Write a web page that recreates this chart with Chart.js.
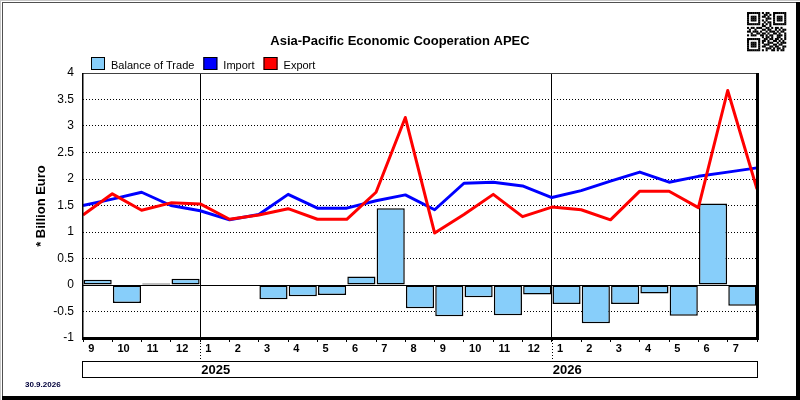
<!DOCTYPE html>
<html>
<head>
<meta charset="utf-8">
<title>APEC - Balance of Trade</title>
<script src="https://cdn.jsdelivr.net/npm/chart.js@4/dist/chart.umd.min.js"></script>
<style>
    html, body { margin: 0; padding: 0; background: #fff; }
    #wrap { width: 800px; height: 400px; }
</style>
</head>
<body>
<div id="wrap"><canvas id="chart" width="800" height="400"></canvas></div>
<script>

// =========================================================
// Data (billion euro)
// =========================================================

const TITLE   = 'Asia-Pacific Economic Cooperation APEC';
const Y_TITLE = '* Billion Euro';
const STAMP   = '30.9.2026';

// one bar per month, 9/2024 .. 7/2026
const months = ['9', '10', '11', '12',
                '1', '2', '3', '4', '5', '6', '7', '8', '9', '10', '11', '12',
                '1', '2', '3', '4', '5', '6', '7'];

const yearLabels = ['2025', '2026'];
const yearStart  = [4, 16];          // bar index of January

const balanceSeries = [ 0.10, -0.34,  0.03,  0.12,
                        0.01,  0.00, -0.27, -0.21, -0.19,  0.16,  1.45, -0.44,
                       -0.59, -0.23, -0.57, -0.18,
                       -0.36, -0.72, -0.36, -0.16, -0.58,  1.54, -0.39];

// the lines sit on the month boundaries: 8/2024 .. 7/2026
const lineMonths = ['8'].concat(months);

const importSeries = [1.50, 1.62, 1.75, 1.50, 1.40, 1.23, 1.33, 1.71, 1.45, 1.45,
                      1.59, 1.70, 1.42, 1.92, 1.94, 1.87, 1.65, 1.78, 1.96, 2.13,
                      1.94, 2.05, 2.13, 2.21];

const exportSeries = [1.32, 1.72, 1.41, 1.55, 1.53, 1.24, 1.32, 1.44, 1.24, 1.24,
                      1.75, 3.16, 0.98, 1.33, 1.71, 1.29, 1.47, 1.42, 1.23, 1.77,
                      1.77, 1.46, 3.67, 1.81];

const yMin = -1, yMax = 4, yStep = 0.5;

// =========================================================
// Style
// =========================================================

const FONT      = '"Liberation Sans", Arial, sans-serif';
const C_BALANCE = '#87cefa';
const C_IMPORT  = '#0000ff';
const C_EXPORT  = '#ff0000';

// fake QR stamp in the corner
const QR = [
    '111111101011001111111',
    '100000100110101000001',
    '101110101101001011101',
    '101110100011101011101',
    '101110101010001011101',
    '100000100101101000001',
    '111111101010101111111',
    '000000001100100000000',
    '101101110011010110100',
    '010010001101100101011',
    '110111010010111010110',
    '001001101101001101001',
    '101110011010110011101',
    '000000001011010011001',
    '111111100110110110101',
    '100000101101001101010',
    '101110101001110010111',
    '101110100111001101100',
    '101110101100110110011',
    '100000100011101011010',
    '111111101010011010110',
];

// =========================================================
// Helpers
// =========================================================

function _boundary(chart, i) {
    // the hidden line axis has one tick per month boundary
    return chart.scales.xl.getPixelForValue(i);
}

// =========================================================
// Decoration plugin (title, legend, frame, year row, stamp)
// =========================================================

const decor = {
    id: 'decor',

    beforeDatasetsDraw(chart) {
        const { ctx, chartArea: a, scales: { y } } = chart;
        const y0 = Math.round(y.getPixelForValue(0)) + 0.5;
        ctx.save();
        ctx.strokeStyle = '#000';
        ctx.lineWidth = 1;
        ctx.beginPath();
        ctx.moveTo(a.left, y0);
        ctx.lineTo(a.right, y0);
        ctx.stroke();
        ctx.restore();
    },

    afterDraw(chart) {
        const { ctx, chartArea: a } = chart;
        ctx.save();

        // title
        ctx.fillStyle = '#000';
        ctx.font = 'bold 13px ' + FONT;
        ctx.textAlign = 'center';
        ctx.textBaseline = 'middle';
        ctx.fillText(TITLE, 400, 41);

        // legend
        const items = [2, 1, 0].map(i => chart.data.datasets[i]);
        let lx = 91;
        ctx.font = '11px ' + FONT;
        ctx.textAlign = 'left';
        ctx.textBaseline = 'alphabetic';
        items.forEach(ds => {
            ctx.fillStyle = ds.type === 'line' ? ds.borderColor : ds.backgroundColor;
            ctx.fillRect(lx, 57, 14, 13);
            ctx.strokeStyle = '#000';
            ctx.lineWidth = 1;
            ctx.strokeRect(lx + 0.5, 57.5, 13, 12);
            ctx.fillStyle = '#000';
            ctx.fillText(ds.label, lx + 20, 69);
            lx += 20 + ctx.measureText(ds.label).width + 9;
        });

        // y axis title
        ctx.save();
        ctx.translate(41, 206);
        ctx.rotate(-Math.PI / 2);
        ctx.font = 'bold 13px ' + FONT;
        ctx.textAlign = 'center';
        ctx.textBaseline = 'middle';
        ctx.fillText(Y_TITLE, 0, 0);
        ctx.restore();

        // plot frame: thin top / left, heavy bottom / right
        ctx.fillStyle = '#404040';
        ctx.fillRect(a.left, a.top, a.right - a.left, 1);
        ctx.fillStyle = '#000';
        ctx.fillRect(a.left - 1, a.top, 1.5, a.bottom - a.top);
        ctx.fillRect(a.left - 1, a.bottom - 1, a.right - a.left + 3, 3);
        ctx.fillRect(a.right - 1, a.top, 3, a.bottom - a.top + 2);

        // year row
        const boxTop = 361, boxH = 16;
        ctx.strokeStyle = '#000';
        ctx.lineWidth = 1;
        ctx.strokeRect(a.left - 0.5, boxTop + 0.5, a.right - a.left + 1, boxH);

        ctx.setLineDash([1, 2]);
        yearStart.forEach(i => {
            const x = Math.round(_boundary(chart, i)) + 0.5;
            ctx.beginPath();
            ctx.moveTo(x, a.bottom + 2);
            ctx.lineTo(x, boxTop);
            ctx.stroke();
        });
        ctx.setLineDash([]);

        ctx.font = 'bold 13px ' + FONT;
        ctx.textAlign = 'left';
        ctx.textBaseline = 'middle';
        yearLabels.forEach((lbl, k) => {
            ctx.fillText(lbl, _boundary(chart, yearStart[k]) + 1, boxTop + boxH / 2 + 1);
        });

        // date stamp
        ctx.font = 'bold 8px ' + FONT;
        ctx.fillStyle = '#00003a';
        ctx.textBaseline = 'alphabetic';
        ctx.fillText(STAMP, 25, 387);

        // qr stamp
        ctx.fillStyle = '#000';
        const m = 1.86;
        QR.forEach((row, r) => {
            for (let c = 0; c < row.length; c++) {
                if (row[c] === '1') ctx.fillRect(747 + c * m, 12 + r * m, m + 0.2, m + 0.2);
            }
        });

        // outer frame
        ctx.fillStyle = '#c8c8c8';
        ctx.fillRect(0, 0, 800, 1);
        ctx.fillRect(0, 0, 1, 400);
        ctx.fillStyle = '#505050';
        ctx.fillRect(2, 2, 794, 1);
        ctx.fillRect(2, 2, 1, 394);
        ctx.fillStyle = '#000';
        ctx.fillRect(796, 2, 4, 398);
        ctx.fillRect(2, 396, 798, 4);

        ctx.restore();
    }
};

// =========================================================
// Chart
// =========================================================

const chart = new Chart(document.getElementById('chart'), {
    type: 'bar',
    data: {
        labels: months,
        datasets: [
            {
                type: 'line', label: 'Export', data: exportSeries, xAxisID: 'xl',
                borderColor: C_EXPORT, backgroundColor: C_EXPORT,
                borderWidth: 3, pointRadius: 0, tension: 0,
                borderJoinStyle: 'round', order: 1,
            },
            {
                type: 'line', label: 'Import', data: importSeries, xAxisID: 'xl',
                borderColor: C_IMPORT, backgroundColor: C_IMPORT,
                borderWidth: 3, pointRadius: 0, tension: 0,
                borderJoinStyle: 'round', order: 2,
            },
            {
                type: 'bar', label: 'Balance of Trade', data: balanceSeries, xAxisID: 'x',
                backgroundColor: C_BALANCE, borderColor: '#000',
                borderWidth: 1.5, borderSkipped: false, grouped: false,
                barPercentage: 1, categoryPercentage: 0.96, order: 3,
            },
        ],
    },
    options: {
        responsive: false,
        animation: false,
        devicePixelRatio: 1,
        layout: { padding: { left: 0, right: 43, top: 73, bottom: 0 } },
        plugins: {
            legend: { display: false },
            title: { display: false },
            tooltip: { enabled: false },
        },
        scales: {
            x: {
                type: 'category',
                position: 'bottom',
                offset: true,
                afterFit: s => { s.height = 62; },
                border: { display: false },
                grid: {
                    offset: true,
                    drawOnChartArea: true,
                    color: ctx => yearStart.includes(ctx.index) ? '#000' : 'rgba(0,0,0,0)',
                    tickColor: '#000',
                    tickLength: 4,
                    lineWidth: 1,
                },
                ticks: {
                    autoSkip: false,
                    maxRotation: 0,
                    align: 'start',
                    labelOffset: -9.5,
                    padding: 0,
                    color: '#000',
                    font: { family: FONT, size: 11, weight: 'bold' },
                },
            },
            xl: {
                type: 'category',
                labels: lineMonths,
                offset: false,
                display: false,
            },
            y: {
                min: yMin,
                max: yMax,
                afterFit: s => { s.width = 83; },
                border: { display: false, dash: [1, 2] },
                grid: {
                    drawTicks: false,
                    lineWidth: 1,
                    color: ctx => (ctx.tick && ctx.tick.value > yMin && ctx.tick.value < yMax)
                        ? '#000' : 'rgba(0,0,0,0)',
                },
                ticks: {
                    stepSize: yStep,
                    padding: 9,
                    color: '#000',
                    font: { family: FONT, size: 12 },
                    callback: v => String(v),
                },
            },
        },
    },
    plugins: [decor],
});

</script>
</body>
</html>
